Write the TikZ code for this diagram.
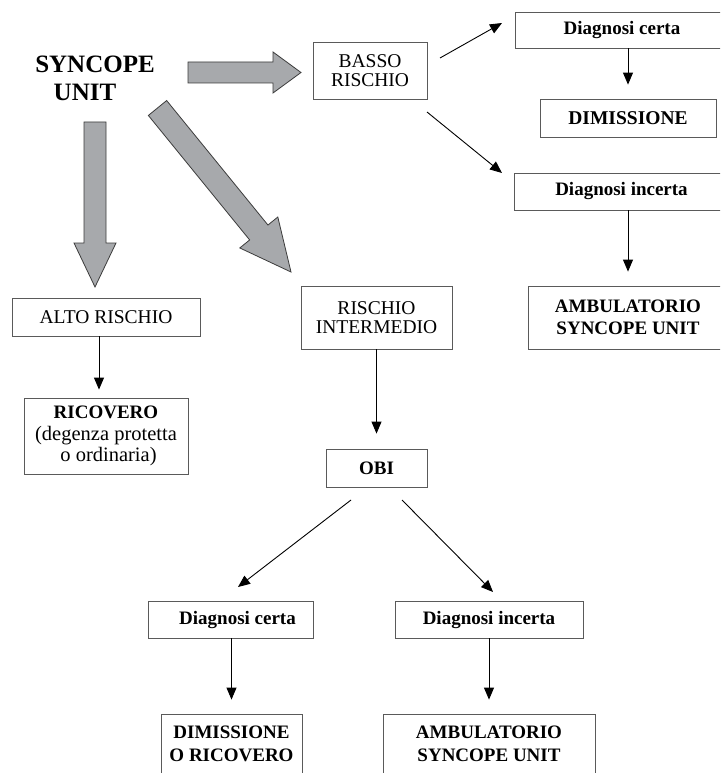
\documentclass[tikz,border=0pt]{standalone}
\usepackage{fontspec}
\setmainfont{Liberation Serif}
\usetikzlibrary{arrows.meta,calc}
\definecolor{bordergray}{HTML}{5A5A5A}
\definecolor{fatfill}{HTML}{A7A9AC}
\definecolor{fatline}{HTML}{3C3C3C}
\begin{document}
\begin{tikzpicture}[x=1pt,y=-1pt,
  box/.style={draw=bordergray,line width=0.8pt,rectangle,inner sep=0pt,align=center},
  reg/.style={font=\fontsize{19.5}{19.5}\selectfont},
  bld/.style={font=\fontsize{19}{22.5}\selectfont\bfseries},
  arr/.style={draw=black,line width=0.9pt,-{Triangle[length=12pt,width=10pt]}},
  fat/.style={fill=fatfill,draw=fatline,line width=0.8pt,line join=miter}]
\useasboundingbox (0,0) rectangle (720,773);
\clip (0,0) rectangle (720,773);
\fill[white] (0,0) rectangle (720,773);

% title
\node[font=\fontsize{25}{25}\selectfont\bfseries,anchor=base,inner sep=0pt] (syn1) at (95,72.7) {SYNCOPE};
\node[font=\fontsize{25}{25}\selectfont\bfseries,anchor=base,inner sep=0pt] (syn2) at (85,101) {UNIT};

% big arrows
\draw[fat] (188,62) -- (273,62) -- (273,52) -- (301,72.5) -- (273,93) -- (273,83) -- (188,83) -- cycle;
\draw[fat] (84,122) -- (106,122) -- (106,243) -- (116,243) -- (95,287) -- (74,243) -- (84,243) -- cycle;
\draw[fat] (148.35,115.45) -- (166.65,100.55) -- (267.95,225.05) -- (277.8,217.0) -- (291,272) -- (239.8,247.96) -- (249.65,239.95) -- cycle;

% boxes
\node[box,reg,minimum width=114pt,minimum height=57pt] (basso) at (370,70.5) {BASSO\\RISCHIO};
\node[box,bld,minimum width=214pt,minimum height=36pt] (dcert1) at (622,30) {Diagnosi certa};
\node[box,bld,font=\fontsize{19.5}{22.5}\selectfont\bfseries,minimum width=176pt,minimum height=38pt] (dimiss1) at (628,118) {DIMISSIONE};
\node[box,bld,minimum width=215pt,minimum height=37pt] (dinc1) at (621.5,191.5) {Diagnosi incerta};
\node[box,bld,minimum width=200pt,minimum height=63pt] (amb1) at (628,317.5) {AMBULATORIO\\SYNCOPE UNIT};
\node[box,reg,minimum width=188pt,minimum height=38pt] (alto) at (106,317) {ALTO RISCHIO};
\node[box,font=\fontsize{20.5}{21.5}\selectfont,minimum width=164pt,minimum height=76pt] (ricov) at (106,436)
  {{\fontsize{19}{21.5}\selectfont\bfseries RICOVERO}\\(degenza protetta\\\hspace*{5pt}o ordinaria)};
\node[box,reg,minimum width=151pt,minimum height=63pt] (inter) at (376.5,317.5) {RISCHIO\\INTERMEDIO};
\node[box,bld,minimum width=101pt,minimum height=38pt] (obi) at (376.5,468) {OBI};
\node[box,bld,minimum width=165pt,minimum height=37pt] (dcert2) at (230.5,619.5) {\hspace*{14pt}Diagnosi certa};
\node[box,bld,minimum width=188pt,minimum height=37pt] (dinc2) at (489,619.5) {Diagnosi incerta};
\node[box,bld,minimum width=141pt,minimum height=60pt] (dimric) at (231.5,744) {DIMISSIONE\\O RICOVERO};
\node[box,bld,minimum width=212pt,minimum height=60pt] (amb2) at (489,744) {AMBULATORIO\\SYNCOPE UNIT};

% free ends
\coordinate (b1s) at (440,58);  \coordinate (b1e) at (502,23);
\coordinate (b2s) at (427,112); \coordinate (b2e) at (502,173);
\coordinate (o1s) at (351,500); \coordinate (o1e) at (238,587);
\coordinate (o2s) at (402,500); \coordinate (o2e) at (493,592);

% thin arrows
\draw[arr] (b1s) -- (b1e);
\draw[arr] (b2s) -- (b2e);
\draw[arr] (o1s) -- (o1e);
\draw[arr] (o2s) -- (o2e);
\draw[arr,shorten >=14pt] (dcert1.south -| dimiss1.north) -- (dimiss1.north);
\draw[arr,shorten >=14pt] (dinc1.south -| amb1.north) -- (amb1.north);
\draw[arr,shorten >=8pt] ([xshift=-7pt]alto.south) -- ([xshift=-7pt]ricov.north);
\draw[arr,shorten >=15pt] (inter.south) -- (obi.north);
\draw[arr,shorten >=14pt] (dcert2.south -| dimric.north) -- (dimric.north);
\draw[arr,shorten >=14pt] (dinc2.south) -- (amb2.north);
\end{tikzpicture}
\end{document}
